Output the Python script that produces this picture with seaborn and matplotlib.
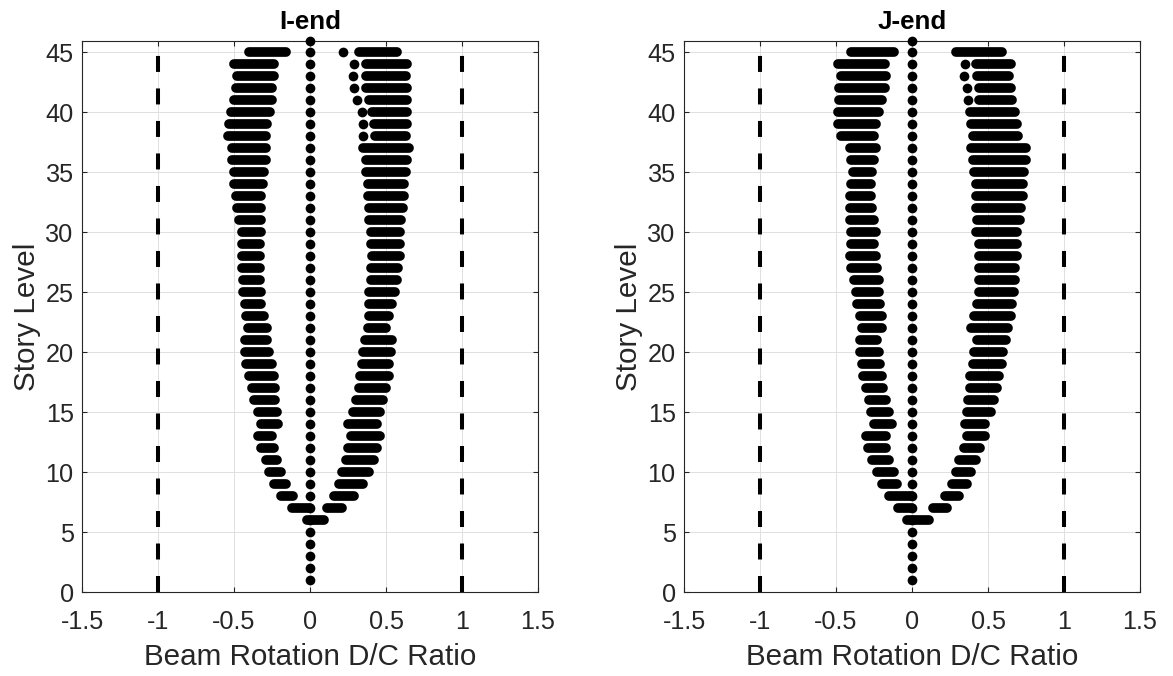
import matplotlib
matplotlib.use("Agg")
import matplotlib.pyplot as plt
import seaborn as sns
import pandas as pd
import numpy as np

# ---------------- data ----------------
story_levels = list(range(1, 47))            # zero-valued reference dots
band_stories = list(range(45, 6, -1))        # stories 45 .. 7

# I-end  (left panel)
i_neg_lo = [-0.40, -0.50, -0.48, -0.49, -0.50, -0.52, -0.53, -0.54, -0.51, -0.51,
            -0.50, -0.50, -0.49, -0.48, -0.47, -0.45, -0.45, -0.45, -0.45, -0.44,
            -0.44, -0.43, -0.42, -0.41, -0.43, -0.43, -0.42, -0.40, -0.38, -0.37,
            -0.34, -0.32, -0.34, -0.32, -0.29, -0.27, -0.24, -0.19, -0.12]
i_neg_hi = [-0.16, -0.24, -0.24, -0.25, -0.25, -0.26, -0.28, -0.29, -0.29, -0.29,
            -0.30, -0.31, -0.32, -0.32, -0.32, -0.32, -0.33, -0.33, -0.33, -0.33,
            -0.32, -0.32, -0.30, -0.28, -0.28, -0.27, -0.25, -0.24, -0.23, -0.23,
            -0.22, -0.21, -0.25, -0.24, -0.22, -0.19, -0.16, -0.11, 0.00]
i_pos_lo = [0.32, 0.37, 0.37, 0.37, 0.39, 0.41, 0.42, 0.43, 0.35, 0.37,
            0.37, 0.38, 0.38, 0.39, 0.39, 0.40, 0.40, 0.41, 0.40, 0.40,
            0.39, 0.39, 0.39, 0.38, 0.36, 0.35, 0.34, 0.33, 0.32, 0.30,
            0.28, 0.25, 0.27, 0.25, 0.24, 0.21, 0.19, 0.16, 0.11]
i_pos_hi = [0.57, 0.64, 0.63, 0.64, 0.64, 0.64, 0.64, 0.63, 0.65, 0.64,
            0.63, 0.62, 0.62, 0.61, 0.60, 0.59, 0.59, 0.59, 0.58, 0.57,
            0.56, 0.54, 0.52, 0.50, 0.54, 0.53, 0.52, 0.52, 0.50, 0.48,
            0.46, 0.44, 0.46, 0.44, 0.42, 0.39, 0.35, 0.29, 0.21]
i_base_story, i_base_lo, i_base_hi = [6], [-0.02], [0.09]
i_iso_story = [45, 44, 43, 42, 41, 40, 39, 38]
i_iso_x = [0.22, 0.29, 0.28, 0.29, 0.31, 0.34, 0.35, 0.35]

# J-end  (right panel)
j_neg_lo = [-0.40, -0.49, -0.47, -0.48, -0.48, -0.49, -0.49, -0.47, -0.41, -0.40,
            -0.39, -0.40, -0.41, -0.41, -0.41, -0.40, -0.40, -0.41, -0.40, -0.38,
            -0.37, -0.36, -0.34, -0.33, -0.34, -0.34, -0.33, -0.32, -0.30, -0.28,
            -0.27, -0.25, -0.30, -0.29, -0.26, -0.23, -0.20, -0.15, -0.09]
j_neg_hi = [-0.12, -0.18, -0.17, -0.18, -0.20, -0.22, -0.24, -0.25, -0.24, -0.25,
            -0.26, -0.27, -0.27, -0.26, -0.25, -0.24, -0.25, -0.24, -0.23, -0.22,
            -0.22, -0.21, -0.20, -0.20, -0.23, -0.22, -0.21, -0.20, -0.19, -0.17,
            -0.15, -0.13, -0.17, -0.17, -0.15, -0.12, -0.10, 0.00, 0.00]
j_pos_lo = [0.29, 0.42, 0.43, 0.44, 0.44, 0.38, 0.39, 0.40, 0.39, 0.40,
            0.41, 0.42, 0.42, 0.42, 0.43, 0.42, 0.44, 0.44, 0.44, 0.44,
            0.44, 0.43, 0.41, 0.39, 0.43, 0.41, 0.40, 0.38, 0.38, 0.37,
            0.36, 0.35, 0.36, 0.34, 0.31, 0.29, 0.26, 0.22, 0.14]
j_pos_hi = [0.59, 0.65, 0.64, 0.65, 0.66, 0.68, 0.69, 0.70, 0.75, 0.75,
            0.74, 0.73, 0.73, 0.72, 0.71, 0.69, 0.69, 0.69, 0.68, 0.68,
            0.67, 0.66, 0.65, 0.63, 0.62, 0.60, 0.59, 0.57, 0.56, 0.54,
            0.52, 0.48, 0.48, 0.45, 0.42, 0.39, 0.36, 0.31, 0.23]
j_base_story, j_base_lo, j_base_hi = [6], [-0.03], [0.11]
j_iso_story = [44, 43, 42, 41]
j_iso_x = [0.35, 0.34, 0.36, 0.37]

limits = [-1, 1]
limit_top = 45
titles = ["I-end", "J-end"]
xticks = [-1.5, -1, -0.5, 0, 0.5, 1, 1.5]
xtick_labels = ["-1.5", "-1", "-0.5", "0", "0.5", "1", "1.5"]
yticks = list(range(0, 50, 5))
xlabel = "Beam Rotation D/C Ratio"
ylabel = "Story Level"

# ---------------- style ----------------
sns.set_style("ticks")
plt.rcParams["font.family"] = ["Liberation Sans", "DejaVu Sans"]
plt.rcParams["axes.unicode_minus"] = False

W, H = 1173, 676
fig = plt.figure(figsize=(W / 100, H / 100), dpi=100)
ax_pos = [[82, 684], 456]
bottom_px, top_px = 592.3, 40.5

DOT = 7.0  # marker diameter in points
TXT = "#262626"


def segments(stories, los, his):
    rows = []
    for k, (s, lo, hi) in enumerate(zip(stories, los, his)):
        rows.append({"seg": k, "x": lo, "y": s})
        rows.append({"seg": k, "x": hi, "y": s})
    return rows


panels = [
    (band_stories, i_neg_lo, i_neg_hi, i_pos_lo, i_pos_hi, i_base_story, i_base_lo, i_base_hi, i_iso_story, i_iso_x),
    (band_stories, j_neg_lo, j_neg_hi, j_pos_lo, j_pos_hi, j_base_story, j_base_lo, j_base_hi, j_iso_story, j_iso_x),
]

for p, (bs, nlo, nhi, plo, phi, bst, blo, bhi, iso_s, iso_x) in enumerate(panels):
    left = ax_pos[0][p]
    ax = fig.add_axes([left / W, 1 - bottom_px / H, ax_pos[1] / W, (bottom_px - top_px) / H])

    rows = segments(bs, nlo, nhi)
    rows += [dict(r, seg=r["seg"] + 1000) for r in segments(bs, plo, phi)]
    rows += [dict(r, seg=r["seg"] + 2000) for r in segments(bst, blo, bhi)]
    df = pd.DataFrame(rows)
    sns.lineplot(data=df, x="x", y="y", units="seg", estimator=None, sort=False,
                 color="black", lw=DOT, solid_capstyle="round", ax=ax, legend=False)

    zero_df = pd.DataFrame({"x": [0.0] * len(story_levels), "y": story_levels})
    sns.scatterplot(data=zero_df, x="x", y="y", s=DOT ** 2, color="black",
                    linewidth=0, ax=ax, clip_on=False, zorder=3)
    iso_df = pd.DataFrame({"x": iso_x, "y": iso_s})
    sns.scatterplot(data=iso_df, x="x", y="y", s=DOT ** 2, color="black",
                    linewidth=0, ax=ax, zorder=3)

    ax.vlines(limits, 0, limit_top, colors="black", linewidth=2.9,
              linestyles=[(0, (3.97, 4.1))], zorder=2)

    ax.set_xlim(-1.5, 1.5)
    ax.set_ylim(0, 46)
    ax.set_xticks(xticks)
    ax.set_xticklabels(xtick_labels)
    ax.set_yticks(yticks)
    ax.grid(True, color="#e0e0e0", linewidth=0.7)
    ax.set_axisbelow(True)
    for sp in ax.spines.values():
        sp.set_visible(True)
        sp.set_color(TXT)
        sp.set_linewidth(0.8)
    ax.tick_params(direction="in", length=3.3, width=0.8, color=TXT,
                   top=True, right=True, labelsize=18.2, labelcolor=TXT)
    ax.tick_params(axis="x", pad=12.5)
    ax.tick_params(axis="y", pad=6)
    ax.set_xlabel(xlabel, fontsize=21.3, color=TXT, labelpad=7)
    ax.set_ylabel(ylabel, fontsize=21.3, color=TXT, labelpad=3)
    ax.set_title(titles[p], fontsize=18.7, fontweight="bold", color="black", pad=8)

fig.savefig("out.png", dpi=100)
